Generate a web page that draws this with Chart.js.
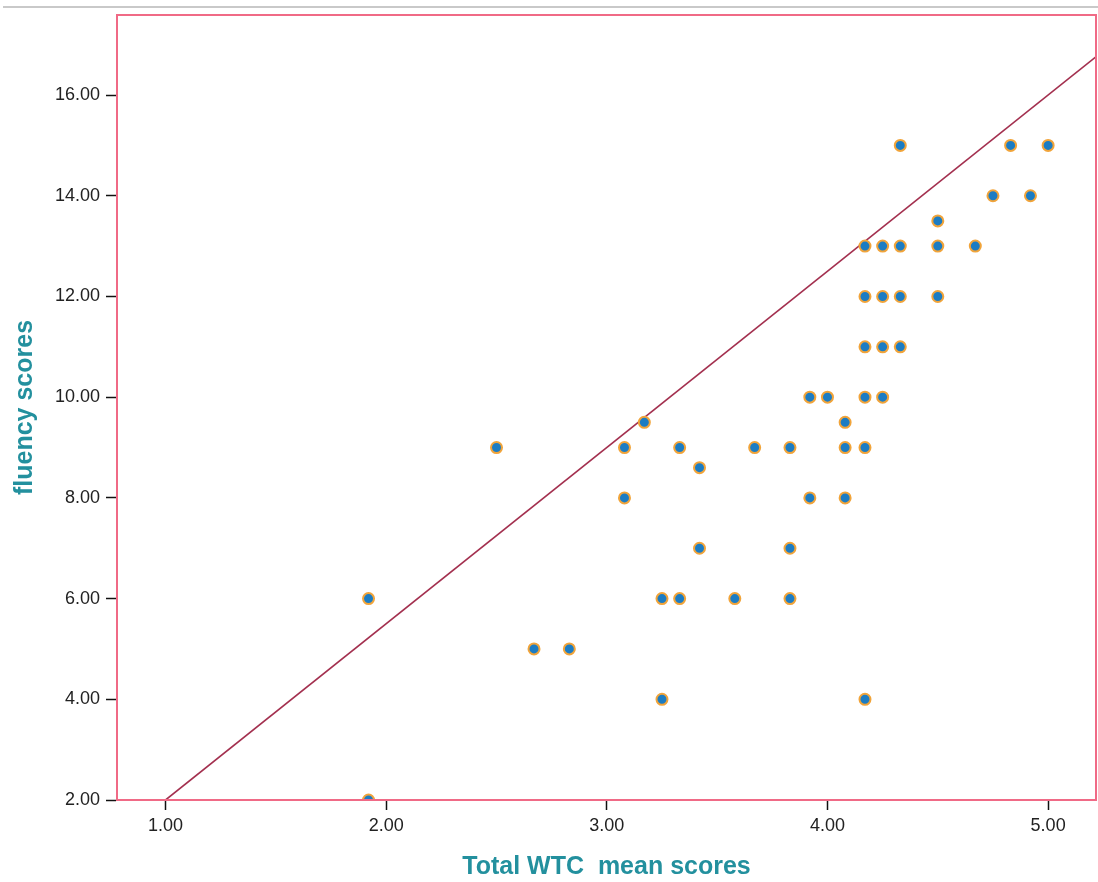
<!DOCTYPE html>
<html>
<head>
<meta charset="utf-8">
<script src="https://cdn.jsdelivr.net/npm/chart.js@4"></script>
<style>
    html, body { margin: 0; padding: 0; background: #ffffff; }
    #wrap { position: relative; width: 1098px; height: 882px; }
    #topRule { position: absolute; left: 3px; right: 0; top: 6px; height: 2px; background: #c9c9c9; }
    canvas { position: absolute; left: 0; top: 0; }
</style>
</head>
<body>
<div id="wrap">
    <canvas id="scatterChart" width="1098" height="882"></canvas>
    <div id="topRule"></div>
</div>
<script>
// WTC mean scores (x) vs fluency scores (y)
const wtcScores = [
    1.92, 1.92, 2.50, 2.67, 2.83, 3.08, 3.08, 3.17, 3.25, 3.25,
    3.33, 3.33, 3.42, 3.42, 3.58, 3.67, 3.83, 3.83, 3.83, 3.92,
    3.92, 4.00, 4.08, 4.08, 4.08, 4.17, 4.17, 4.17, 4.17, 4.17,
    4.17, 4.25, 4.25, 4.25, 4.25, 4.33, 4.33, 4.33, 4.33, 4.50,
    4.50, 4.50, 4.67, 4.75, 4.83, 4.92, 5.00
];
const fluencyScores = [
    2.00, 6.00, 9.00, 5.00, 5.00, 9.00, 8.00, 9.50, 6.00, 4.00,
    9.00, 6.00, 8.60, 7.00, 6.00, 9.00, 9.00, 7.00, 6.00, 10.00,
    8.00, 10.00, 9.50, 9.00, 8.00, 9.00, 10.00, 11.00, 12.00, 13.00,
    4.00, 13.00, 12.00, 11.00, 10.00, 15.00, 13.00, 12.00, 11.00, 13.50,
    13.00, 12.00, 13.00, 14.00, 15.00, 14.00, 15.00
];

// reference line end points
const lineX = [1.00, 5.22];
const lineY = [2.00, 16.77];

const xTicks = [1, 2, 3, 4, 5];
const yTicks = [2, 4, 6, 8, 10, 12, 14, 16];

const frameColor = '#f06a86';
const titleColor = '#23909e';

// cornice rosa attorno all'area del grafico
const framePlugin = {
    id: 'frame',
    afterDatasetsDraw(chart) {
        const a = chart.chartArea;
        const ctx = chart.ctx;
        ctx.save();
        ctx.strokeStyle = frameColor;
        ctx.lineWidth = 2;
        ctx.strokeRect(a.left, a.top, a.right - a.left, a.bottom - a.top);
        ctx.restore();
    }
};

document.addEventListener('DOMContentLoaded', function() {
    const ctx = document.getElementById('scatterChart').getContext('2d');

    new Chart(ctx, {
        type: 'scatter',
        data: {
            datasets: [
                {
                    type: 'line',
                    data: lineX.map((x, i) => ({ x: x, y: lineY[i] })),
                    borderColor: '#a3304f',
                    borderWidth: 1.6,
                    pointRadius: 0,
                    fill: false,
                    order: 2
                },
                {
                    data: wtcScores.map((x, i) => ({ x: x, y: fluencyScores[i] })),
                    pointStyle: 'circle',
                    pointRadius: 5.5,
                    backgroundColor: '#1c7cc3',
                    borderColor: '#f1a43a',
                    borderWidth: 2,
                    order: 1
                }
            ]
        },
        options: {
            responsive: false,
            animation: false,
            layout: { autoPadding: false, padding: { left: 0, top: 15, right: 2, bottom: 0 } },
            plugins: {
                legend: { display: false },
                tooltip: { enabled: false }
            },
            scales: {
                x: {
                    type: 'linear',
                    min: 0.78,
                    max: 5.217,
                    afterBuildTicks: function(scale) {
                        scale.ticks = xTicks.map(v => ({ value: v }));
                    },
                    afterFit: function(scale) {
                        scale.height = 82;
                        scale.paddingLeft = 0;
                        scale.paddingRight = 0;
                    },
                    grid: {
                        drawOnChartArea: false,
                        drawTicks: true,
                        tickLength: 10,
                        tickColor: '#111111',
                        tickWidth: 1.5
                    },
                    border: { display: true, color: frameColor, width: 2 },
                    ticks: {
                        padding: 5,
                        color: '#222222',
                        font: { family: 'Arial, "Liberation Sans", sans-serif', size: 18 },
                        callback: v => Number(v).toFixed(2)
                    },
                    title: {
                        display: true,
                        text: 'Total WTC  mean scores',
                        color: titleColor,
                        font: { family: 'Arial, "Liberation Sans", sans-serif', size: 25, weight: 'bold' },
                        padding: { top: 10, bottom: 0 }
                    }
                },
                y: {
                    type: 'linear',
                    min: 2,
                    max: 17.59,
                    afterBuildTicks: function(scale) {
                        scale.ticks = yTicks.map(v => ({ value: v }));
                    },
                    afterFit: function(scale) {
                        scale.width = 117;
                        scale.paddingTop = 0;
                        scale.paddingBottom = 0;
                    },
                    grid: {
                        drawOnChartArea: false,
                        drawTicks: true,
                        tickLength: 11,
                        tickColor: '#111111',
                        tickWidth: 1.5
                    },
                    border: { display: true, color: frameColor, width: 2 },
                    ticks: {
                        padding: 6,
                        color: '#222222',
                        font: { family: 'Arial, "Liberation Sans", sans-serif', size: 18 },
                        callback: v => Number(v).toFixed(2)
                    },
                    title: {
                        display: true,
                        text: 'fluency scores',
                        color: titleColor,
                        font: { family: 'Arial, "Liberation Sans", sans-serif', size: 25, weight: 'bold' },
                        padding: { top: 10, bottom: 0 }
                    }
                }
            }
        },
        plugins: [framePlugin]
    });
});
</script>
</body>
</html>
